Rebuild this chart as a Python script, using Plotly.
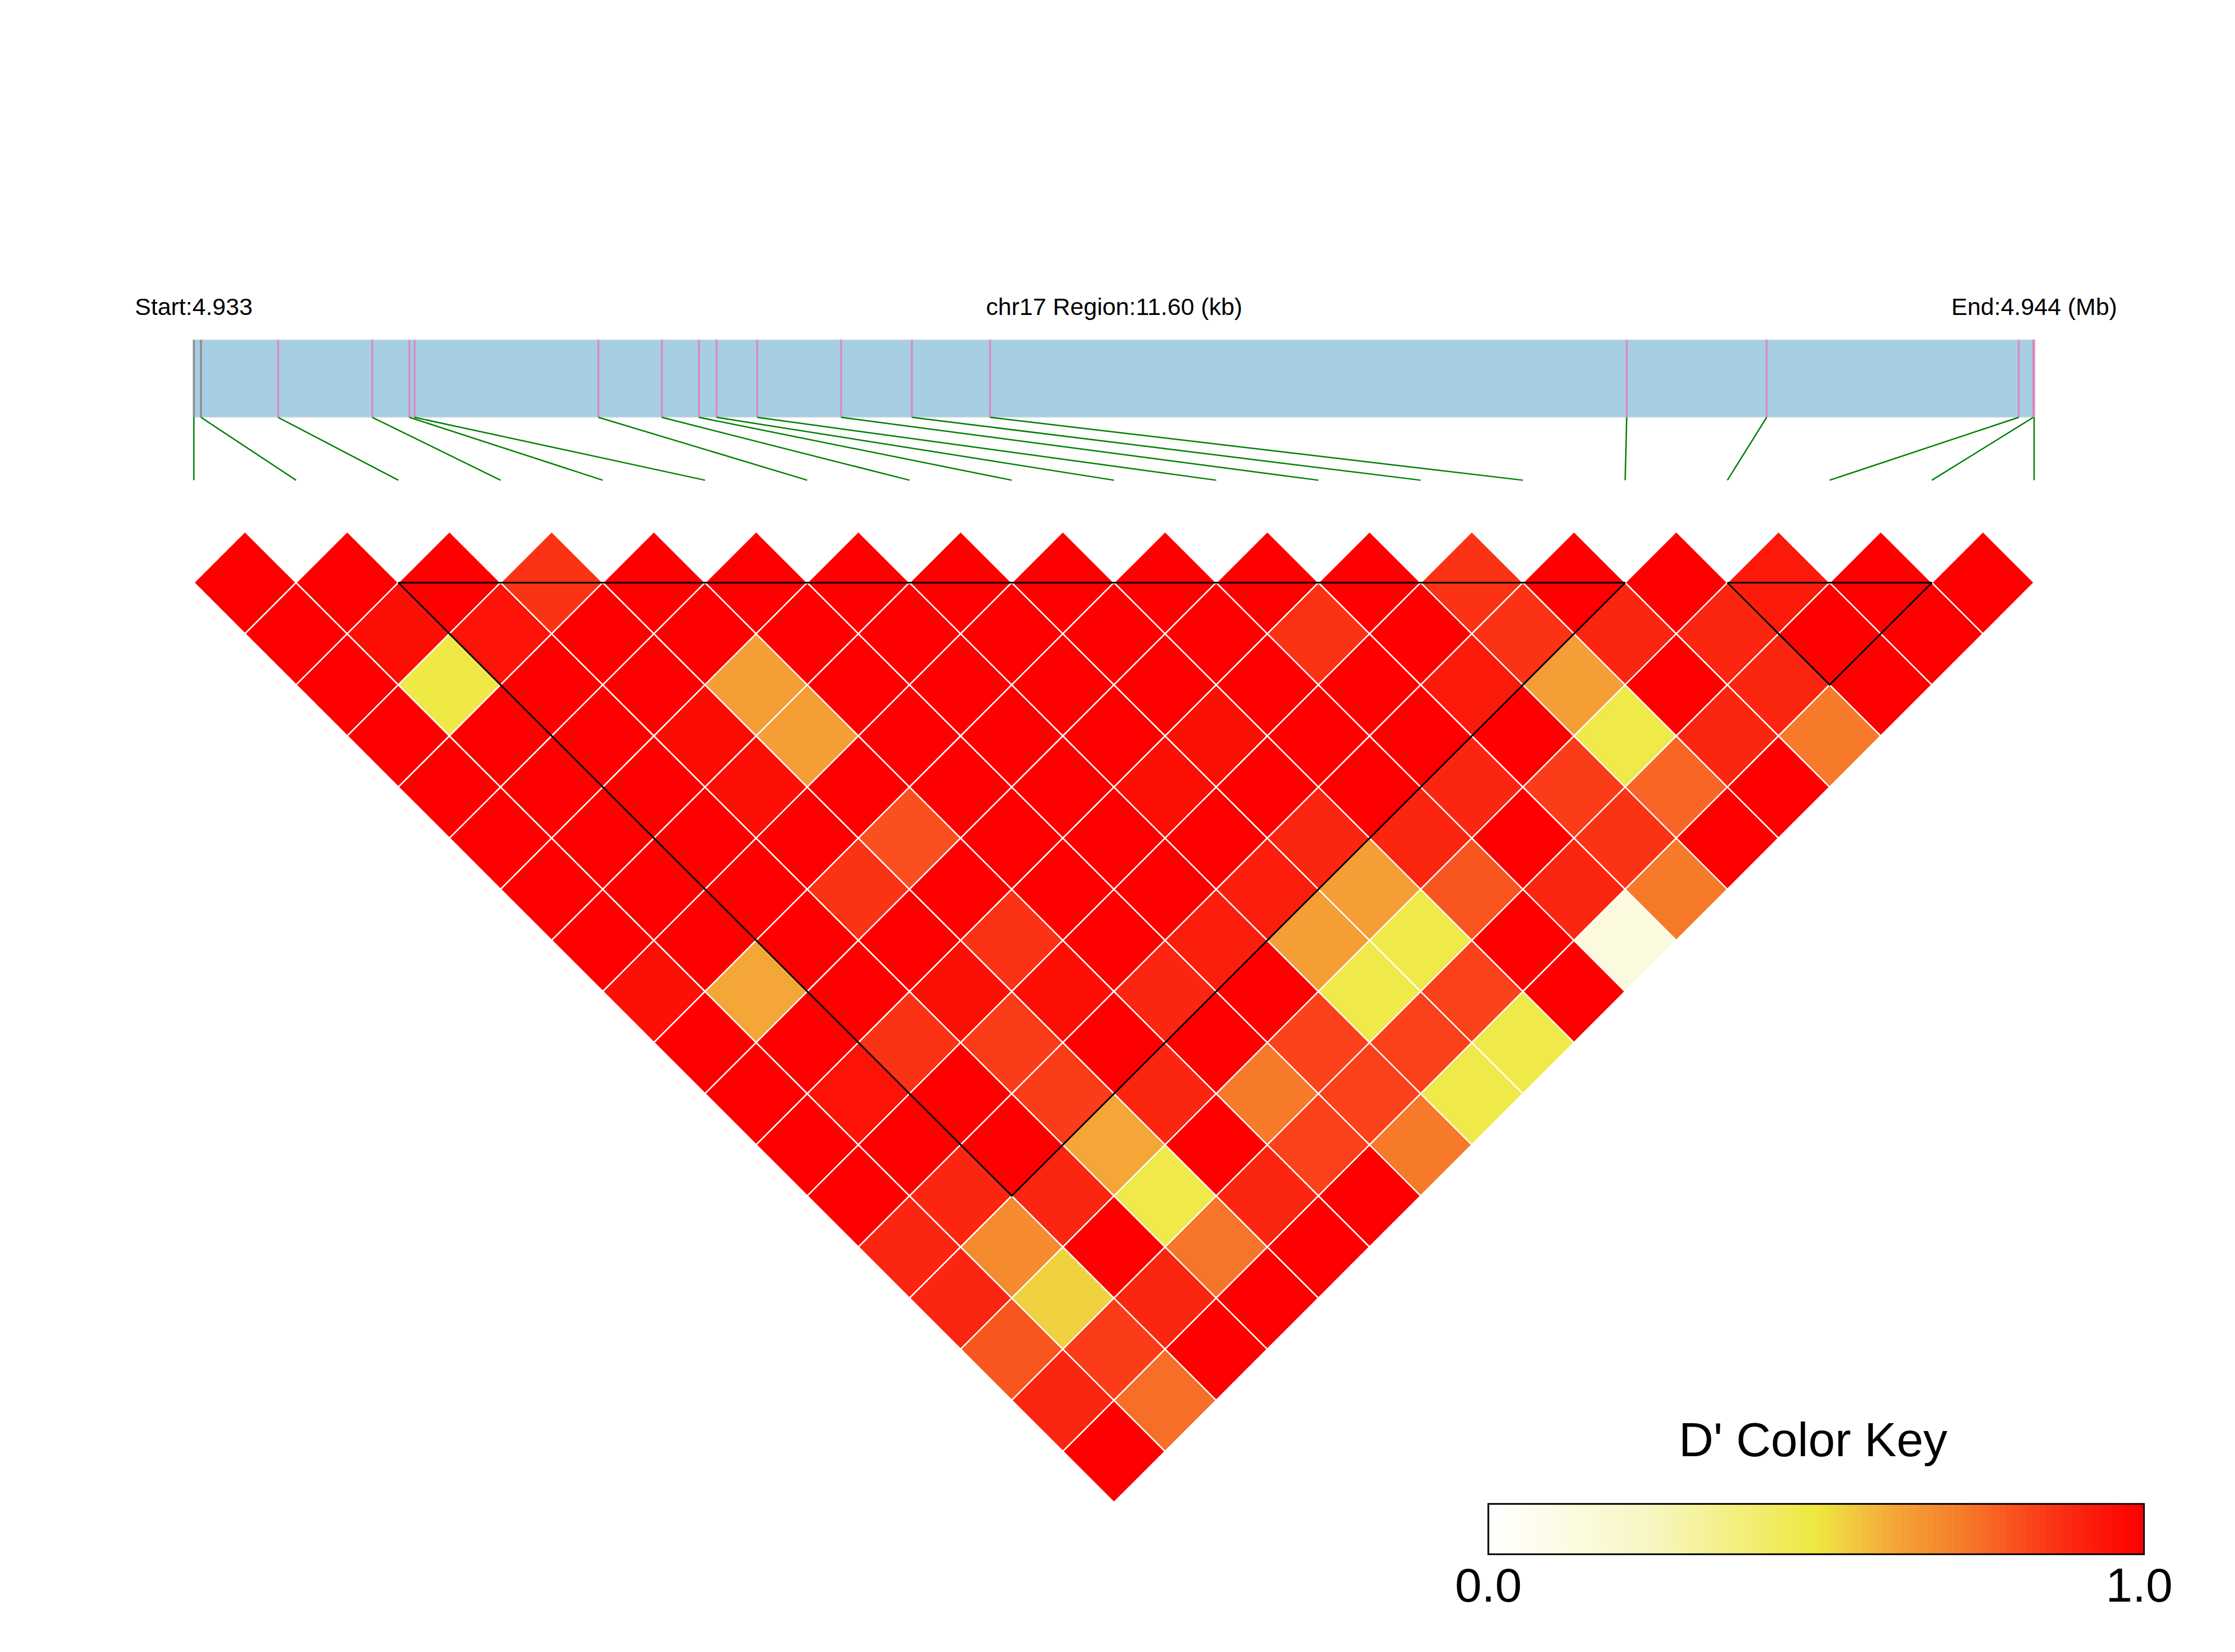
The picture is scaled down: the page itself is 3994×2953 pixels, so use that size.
import numpy as np
import plotly.graph_objects as go

# ---------------- data ----------------
chrom = "chr17"
snp_pos = [4932700, 4932745, 4933231, 4933825, 4934059, 4934091, 4935250,
           4935650, 4935884, 4935995, 4936251, 4936780, 4937226, 4937719,
           4941732, 4942614, 4944203, 4944295, 4944300]
snp_line_color = ["#8C8C8C", "#8C8C8C"] + ["#D98AC0"] * 17

# D' values: row i holds pairs (i, j) for j = i+1 .. last SNP
dprime_rows = [
    [1, 1, 1, 1, 1, 1, 1, 1, 0.96, 1, 1, 1, 1, 0.90, 0.90, 0.80, 0.90, 1],
    [1, 0.96, 0.49, 1, 1, 1, 1, 1, 0.62, 1, 0.95, 1, 0.90, 0.69, 0.54, 0.85, 0.75],
    [1, 0.95, 1, 1, 1, 1, 1, 1, 1, 0.87, 1, 1, 0.90, 1, 0.90, 1],
    [0.87, 1, 1, 0.97, 0.96, 1, 0.87, 1, 0.96, 0.85, 0.85, 0.62, 0.48, 0.74, 1],
    [1, 1, 0.64, 0.64, 1, 0.81, 1, 0.87, 0.96, 1, 0.90, 1, 0.90, 1],
    [1, 1, 1, 1, 1, 1, 1, 1, 0.90, 1, 0.73, 0.84, 1],
    [1, 1, 1, 1, 1, 1, 1, 0.92, 1, 0.84, 0.84, 0.73],
    [1, 1, 1, 1, 0.96, 1, 0.92, 0.64, 0.48, 0.84, 0.48],
    [1, 1, 1, 0.96, 1, 0.90, 0.64, 0.48, 0.84, 0.48],
    [1, 1, 1, 1, 1, 0.90, 0.80, 1, 1],
    [1, 0.87, 1, 1, 0.90, 1, 0.90, 0.13],
    [1, 1, 0.93, 1, 0.85, 0.87, 0.73],
    [0.87, 0.87, 0.64, 0.48, 0.77, 1],
    [1, 0.90, 1, 0.90, 1],
    [1, 0.90, 0.90, 0.73],
    [0.93, 1, 1],
    [1, 1],
    [1],
]
# LD blocks (first SNP index, last SNP index)
block_start = [2, 15]
block_end = [14, 17]

key_title = "D' Color Key"
key_ticks = ["0.0", "1.0"]

# colour key for D'
cs_pos = [0.0, 0.25, 0.5, 0.55, 0.63, 0.73, 0.82, 0.9, 1.0]
cs_hex = ["#FFFFFF", "#F8F6C0", "#EEE840", "#F0CC40", "#F4A236",
          "#F67A2A", "#FA4A1C", "#FB2510", "#FF0000"]


def hex2rgb(h):
    h = h.lstrip("#")
    return [int(h[k:k + 2], 16) for k in (0, 2, 4)]


cs_rgb = np.array([hex2rgb(h) for h in cs_hex], dtype=float)


def dcolor(v):
    c = [np.interp(v, cs_pos, cs_rgb[:, k]) for k in range(3)]
    return "rgb(%d,%d,%d)" % tuple(int(round(x)) for x in c)


colorscale = [[p, dcolor(p)] for p in cs_pos]

FONT = "Liberation Sans, Arial, Helvetica, sans-serif"
W, H = 3994, 2953

# geometry (in SNP-spacing units); y grows downward
BAR_TOP, BAR_BOT = -1.876, -1.117
LINK_BOT = -0.502
LABEL_Y = -2.20

n = len(snp_pos)
start, end = snp_pos[0], snp_pos[-1]
span = n - 1
phys_x = [(p - start) / (end - start) * span for p in snp_pos]

fig = go.Figure()

# gene / region bar
fig.add_trace(go.Scatter(
    x=[0, span, span, 0, 0], y=[BAR_TOP, BAR_TOP, BAR_BOT, BAR_BOT, BAR_TOP],
    fill="toself", fillcolor="#A6CEE3", mode="lines",
    line=dict(color="#DCE4E8", width=1.5), hoverinfo="skip", showlegend=False))

# SNP ticks inside the bar
for k in range(n):
    fig.add_trace(go.Scatter(
        x=[phys_x[k], phys_x[k]], y=[BAR_TOP, BAR_BOT], mode="lines",
        line=dict(color=snp_line_color[k], width=3.5),
        hoverinfo="text", text="%s:%d" % (chrom, snp_pos[k]), showlegend=False))

# connectors from physical position to matrix position
lx, ly = [], []
for k in range(n):
    lx += [phys_x[k], k, None]
    ly += [BAR_BOT, LINK_BOT, None]
fig.add_trace(go.Scatter(x=lx, y=ly, mode="lines",
                         line=dict(color="#008000", width=2.5),
                         hoverinfo="skip", showlegend=False))

# LD diamonds
for i in range(n - 1):
    for k, v in enumerate(dprime_rows[i]):
        j = i + 1 + k
        cx = (i + j) / 2.0
        cy = (j - i) / 2.0
        fig.add_trace(go.Scatter(
            x=[cx, cx + 0.5, cx, cx - 0.5, cx],
            y=[cy - 0.5, cy, cy + 0.5, cy, cy - 0.5],
            fill="toself", fillcolor=dcolor(v), mode="lines",
            line=dict(color="white", width=2.5),
            hoveron="fills", hoverinfo="text",
            text="SNP%d-SNP%d D'=%.2f" % (i + 1, j + 1, v), showlegend=False))

# LD block outlines
for a, b in zip(block_start, block_end):
    fig.add_trace(go.Scatter(
        x=[a, b, (a + b) / 2.0, a], y=[0.5, 0.5, 0.5 + (b - a) / 2.0, 0.5],
        mode="lines", line=dict(color="black", width=3),
        hoverinfo="skip", showlegend=False))

# colour key
key_vals = np.linspace(0, 1, 100)
fig.add_trace(go.Heatmap(z=[key_vals], colorscale=colorscale, zmin=0, zmax=1,
                         showscale=False, xaxis="x2", yaxis="y2", hoverinfo="skip"))

# axis ranges so that one SNP step = 182.7 px
unit = 182.7
x0_px, y0_px = 346.4, 950.1
xr = [-x0_px / unit, (W - x0_px) / unit]
yr = [(H - y0_px) / unit, -y0_px / unit]

kx0, kx1 = 2659.7 / W, 3831.3 / W
ky0, ky1 = 1 - 2778.3 / H, 1 - 2688.3 / H

annotations = [
    dict(x=0, y=LABEL_Y, xref="x", yref="y", text="Start:%.3f" % (start / 1e6),
         showarrow=False, xanchor="center", yanchor="middle",
         font=dict(size=43, color="black", family=FONT)),
    dict(x=span / 2.0, y=LABEL_Y, xref="x", yref="y",
         text="%s Region:%.2f (kb)" % (chrom, (end - start) / 1000.0),
         showarrow=False, xanchor="center", yanchor="middle",
         font=dict(size=43, color="black", family=FONT)),
    dict(x=span, y=LABEL_Y, xref="x", yref="y", text="End:%.3f (Mb)" % (end / 1e6),
         showarrow=False, xanchor="center", yanchor="middle",
         font=dict(size=43, color="black", family=FONT)),
    dict(x=(kx0 + kx1) / 2 - 0.0015, y=1 - 2573.0 / H, xref="paper", yref="paper",
         text=key_title, showarrow=False, xanchor="center", yanchor="middle",
         font=dict(size=86, color="black", family=FONT)),
    dict(x=kx0, y=1 - 2833.0 / H, xref="paper", yref="paper", text=key_ticks[0],
         showarrow=False, xanchor="center", yanchor="middle",
         font=dict(size=86, color="black", family=FONT)),
    dict(x=kx1 - 0.002, y=1 - 2833.0 / H, xref="paper", yref="paper", text=key_ticks[1],
         showarrow=False, xanchor="center", yanchor="middle",
         font=dict(size=86, color="black", family=FONT)),
]

fig.update_layout(
    width=W, height=H, margin=dict(l=0, r=0, t=0, b=0, pad=0),
    paper_bgcolor="white", plot_bgcolor="white", showlegend=False,
    xaxis=dict(range=xr, visible=False, fixedrange=True, domain=[0, 1]),
    yaxis=dict(range=yr, visible=False, fixedrange=True, domain=[0, 1]),
    xaxis2=dict(domain=[kx0, kx1], anchor="y2", visible=False,
                range=[-0.5, 99.5], fixedrange=True),
    yaxis2=dict(domain=[ky0, ky1], anchor="x2", visible=False,
                range=[-0.5, 0.5], fixedrange=True),
    shapes=[dict(type="rect", xref="x2 domain", yref="y2 domain",
                 x0=0, x1=1, y0=0, y1=1, line=dict(color="black", width=3))],
    annotations=annotations,
    font=dict(family=FONT),
)

fig.write_html("out.html", config={"displayModeBar": False},
               post_script="document.body.style.margin='0';document.body.style.overflow='hidden';")
